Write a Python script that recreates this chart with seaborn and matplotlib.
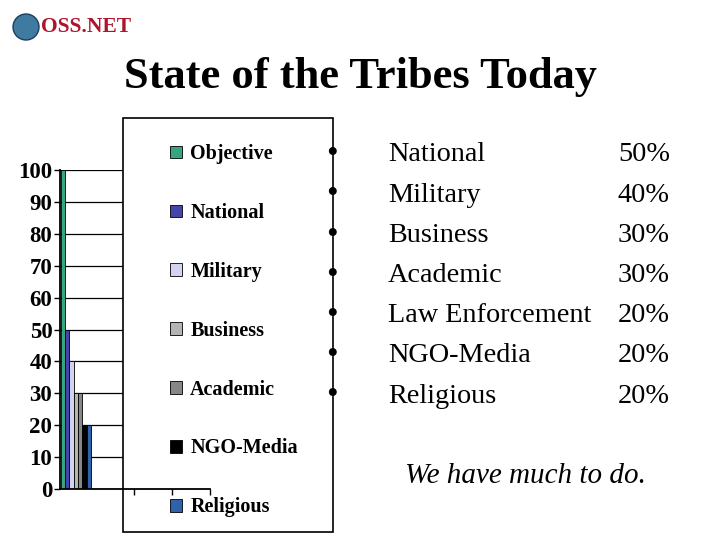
import numpy as np
import pandas as pd
import matplotlib
matplotlib.use("Agg")
import matplotlib.pyplot as plt
from matplotlib.patches import Rectangle, Ellipse
import seaborn as sns

tribes = ["Objective", "National", "Military", "Business", "Academic", "NGO-Media", "Religious"]
values = [100, 50, 40, 30, 30, 20, 20]
colors = ["#22b88c", "#3333c0", "#ccccf8", "#b4b4b4", "#878787", "#000000", "#1a5fc0"]

bullet_names = ["National", "Military", "Business", "Academic", "Law Enforcement", "NGO-Media", "Religious"]
bullet_pcts = ["50%", "40%", "30%", "30%", "20%", "20%", "20%"]

title = "State of the Tribes Today"
footer = "We have much to do."


def main():
    sns.set_style("white")
    plt.rcParams["font.family"] = ["Liberation Serif", "DejaVu Serif"]
    plt.rcParams["text.color"] = "black"
    plt.rcParams["xtick.color"] = "black"
    plt.rcParams["ytick.color"] = "black"

    W, H = 720, 540
    fig = plt.figure(figsize=(7.2, 5.4), dpi=100)
    fig.patch.set_facecolor("white")

    # axes area of the little bar chart
    ax = fig.add_axes([60 / W, 1 - 489 / H, 150 / W, (489 - 170) / H])

    df = pd.DataFrame({"group": ["g"] * len(tribes), "tribe": tribes, "value": values})
    sns.barplot(data=df, x="group", y="value", hue="tribe", hue_order=tribes,
                palette=colors, dodge=True, width=0.8, edgecolor="black",
                linewidth=0.6, ax=ax, zorder=3)
    handles, labels = ax.get_legend_handles_labels()
    ax.get_legend().remove()

    ax.set_xlim(-0.42, 3.55)
    ax.set_ylim(0, 100)
    ax.set_yticks(np.arange(0, 101, 10))
    ax.set_xticks([1.55, 2.55, 3.55])
    ax.set_xticklabels([])
    ax.set_xlabel("")
    ax.set_ylabel("")
    ax.yaxis.grid(True, color="black", linewidth=0.9)
    ax.yaxis.set_zorder(1)
    ax.xaxis.set_zorder(6)
    for s in ["top", "right"]:
        ax.spines[s].set_visible(False)
    for s in ["left", "bottom"]:
        ax.spines[s].set_color("black")
        ax.spines[s].set_linewidth(1.3)
    ax.spines["bottom"].set_zorder(6)
    ax.tick_params(axis="both", direction="out", length=4, width=1, color="black",
                   left=True, bottom=True)
    ax.tick_params(axis="y", pad=1.5)
    for t in ax.get_yticklabels():
        t.set_fontweight("bold")
        t.set_fontsize(16.5)

    # legend box covering the right part of the plot (x axis line stays on top)
    box = Rectangle((123 / W, 1 - 532 / H), (333 - 123) / W, (532 - 118) / H,
                    transform=fig.transFigure, facecolor="white", edgecolor="black",
                    linewidth=1.2, zorder=4, clip_on=False)
    ax.add_patch(box)
    leg = ax.legend(handles, labels, loc="upper left",
                    bbox_to_anchor=(152 / W, 1 - 126 / H), bbox_transform=fig.transFigure,
                    frameon=False,
                    prop={"family": "Liberation Serif", "weight": "bold", "size": 14.5},
                    handlelength=0.6, handleheight=0.6, handletextpad=0.4,
                    labelspacing=1.93)
    leg.set_zorder(7)

    # logo
    globe = Ellipse((26 / W, 1 - 27 / H), 26 / W, 26 / H, transform=fig.transFigure,
                    facecolor="#3f7aa0", edgecolor="#1d3f5e", linewidth=1)
    fig.patches.append(globe)
    fig.text(41 / W, 1 - 27 / H, "OSS.NET", color="#b0142c", fontsize=15.5,
             fontweight="bold", ha="left", va="center")

    fig.text(360 / W, 1 - 77 / H, title, fontsize=32, fontweight="bold",
             ha="center", va="center")

    y0, dy = 155, 40.2
    for i, (name, pct) in enumerate(zip(bullet_names, bullet_pcts)):
        y = 1 - (y0 + i * dy) / H
        fig.text(326 / W, y, "\u2022", fontsize=24, ha="left", va="center")
        fig.text(388 / W, y, name, fontsize=20.3, ha="left", va="center")
        fig.text(670 / W, y, pct, fontsize=20.3, ha="right", va="center")

    fig.text(525 / W, 1 - 476 / H, footer, fontsize=21, fontstyle="italic",
             ha="center", va="center")

    fig.savefig("out.png", dpi=100)
    plt.close(fig)


if __name__ == "__main__":
    main()
